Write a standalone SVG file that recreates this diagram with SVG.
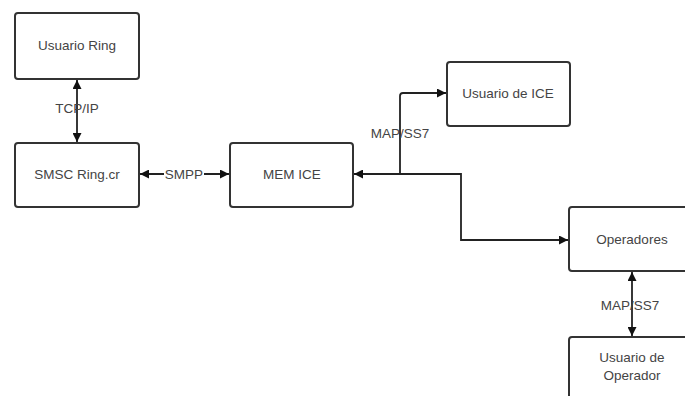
<svg xmlns="http://www.w3.org/2000/svg" width="685" height="396" viewBox="0 0 685 396">
<defs>
<style>
.box{fill:#fff;stroke:#333;stroke-width:2}
.t{font-family:"Liberation Sans",Arial,sans-serif;font-size:13.5px;fill:#444;text-anchor:middle}
.c{fill:none;stroke:#222;stroke-width:1.8}
</style>
<marker id="a" viewBox="0 0 10 10" refX="10" refY="5" markerWidth="9" markerHeight="9" markerUnits="userSpaceOnUse" orient="auto-start-reverse">
<path d="M0,0 L10,5 L0,10 Z" fill="#111"/>
</marker>
</defs>
<rect width="685" height="396" fill="#fff"/>
<g id="connectors">
<line class="c" x1="77" y1="80" x2="77" y2="142" marker-start="url(#a)" marker-end="url(#a)"/>
<line class="c" x1="140" y1="174" x2="229" y2="174" marker-start="url(#a)" marker-end="url(#a)"/>
<path class="c" d="M354,174 H461 V240 H568" marker-start="url(#a)" marker-end="url(#a)"/>
<path class="c" d="M400,174 V96 Q400,93 403,93 H446" marker-end="url(#a)"/>
<line class="c" x1="632" y1="272" x2="632" y2="336" marker-start="url(#a)" marker-end="url(#a)"/>
<text class="t" x="77" y="113">TCP/IP</text>
<rect x="164" y="165" width="40" height="17" fill="#fff"/>
<text class="t" x="184" y="179">SMPP</text>
<text class="t" x="400" y="138">MAP/SS7</text>
<text class="t" x="630" y="310">MAP/SS7</text>
</g>
<g id="usuario-ring">
<rect class="box" x="15" y="13" width="124" height="66" rx="3"/>
<text class="t" x="77" y="50">Usuario Ring</text>
</g>
<g id="smsc">
<rect class="box" x="15" y="143" width="124" height="64" rx="3"/>
<text class="t" x="77" y="179">SMSC Ring.cr</text>
</g>
<g id="mem-ice">
<rect class="box" x="230" y="143" width="123" height="64" rx="3"/>
<text class="t" x="292" y="179">MEM ICE</text>
</g>
<g id="usuario-ice">
<rect class="box" x="447" y="62" width="123" height="64" rx="3"/>
<text class="t" x="508" y="98">Usuario de ICE</text>
</g>
<g id="operadores">
<rect class="box" x="569" y="207" width="126" height="64" rx="3"/>
<text class="t" x="632" y="244">Operadores</text>
</g>
<g id="usuario-operador">
<rect class="box" x="569" y="337" width="126" height="70" rx="3"/>
<text class="t" x="632" y="362">Usuario de</text>
<text class="t" x="632" y="380">Operador</text>
</g>
</svg>
